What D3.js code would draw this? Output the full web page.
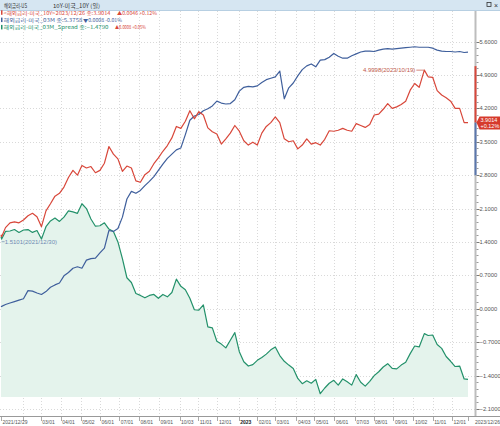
<!DOCTYPE html>
<html>
<head>
<meta charset="utf-8">
<script src="https://cdn.jsdelivr.net/npm/d3@7"></script>
<style>
  body { margin: 0; background: #fff; }
  svg text { font-family: "Liberation Sans", "Noto Sans CJK KR", sans-serif; }
  svg text.kr { font-family: "Noto Sans CJK KR", "Liberation Sans", sans-serif; }
</style>
</head>
<body>
<div id="chart"></div>
<script>
// weekly closes
var dates = ["2021-12-29","2021-12-30","2022-01-05","2022-01-12","2022-01-19","2022-01-26","2022-02-02","2022-02-09","2022-02-16","2022-02-23",
  "2022-03-02","2022-03-09","2022-03-16","2022-03-23","2022-03-30","2022-04-06","2022-04-13","2022-04-20","2022-04-27","2022-05-04",
  "2022-05-11","2022-05-18","2022-05-25","2022-06-01","2022-06-08","2022-06-15","2022-06-22","2022-06-29","2022-07-06","2022-07-13",
  "2022-07-20","2022-07-27","2022-08-03","2022-08-10","2022-08-17","2022-08-24","2022-08-31","2022-09-07","2022-09-14","2022-09-21",
  "2022-09-28","2022-10-05","2022-10-12","2022-10-19","2022-10-26","2022-11-02","2022-11-09","2022-11-16","2022-11-23","2022-11-30",
  "2022-12-07","2022-12-14","2022-12-21","2022-12-28","2023-01-04","2023-01-11","2023-01-18","2023-01-25","2023-02-01","2023-02-08",
  "2023-02-15","2023-02-22","2023-03-01","2023-03-08","2023-03-15","2023-03-22","2023-03-29","2023-04-05","2023-04-12","2023-04-19",
  "2023-04-26","2023-05-03","2023-05-10","2023-05-17","2023-05-24","2023-05-31","2023-06-07","2023-06-14","2023-06-21","2023-06-28",
  "2023-07-05","2023-07-12","2023-07-19","2023-07-26","2023-08-02","2023-08-09","2023-08-16","2023-08-23","2023-08-30","2023-09-06",
  "2023-09-13","2023-09-20","2023-09-27","2023-10-04","2023-10-11","2023-10-19","2023-10-25","2023-11-01","2023-11-08","2023-11-15",
  "2023-11-22","2023-11-29","2023-12-06","2023-12-13","2023-12-20","2023-12-26"];

var us10y = [1.55,1.5101,1.70,1.80,1.82,1.80,1.86,1.95,2.00,1.93,
  1.72,2.05,2.20,2.36,2.42,2.55,2.75,2.90,2.80,3.00,
  2.95,2.98,2.85,2.90,3.05,3.40,3.24,3.14,2.88,2.99,
  2.95,2.68,2.65,2.81,2.88,3.04,3.16,3.30,3.42,3.58,
  3.82,3.78,3.93,4.15,3.98,4.13,4.06,3.79,3.71,3.66,
  3.45,3.56,3.68,3.84,3.72,3.52,3.43,3.49,3.43,3.68,
  3.82,3.90,4.02,3.90,3.56,3.50,3.52,3.35,3.43,3.56,
  3.45,3.48,3.43,3.55,3.73,3.72,3.74,3.78,3.74,3.72,
  3.88,3.84,3.80,3.86,4.06,4.08,4.18,4.30,4.20,4.23,
  4.28,4.35,4.58,4.72,4.64,4.9998,4.86,4.85,4.57,4.48,
  4.42,4.35,4.20,4.20,3.90,3.9014];

var us03m = [0.04,0.05,0.09,0.12,0.15,0.18,0.21,0.38,0.37,0.33,
  0.30,0.36,0.45,0.50,0.54,0.69,0.76,0.85,0.88,0.85,
  1.02,1.05,1.06,1.17,1.27,1.64,1.62,1.68,1.92,2.30,
  2.46,2.42,2.48,2.58,2.67,2.77,2.90,3.03,3.15,3.24,
  3.33,3.37,3.65,3.95,4.04,4.07,4.15,4.19,4.25,4.35,
  4.31,4.29,4.30,4.38,4.56,4.64,4.66,4.65,4.67,4.74,
  4.80,4.83,4.86,4.98,4.40,4.63,4.73,4.88,5.01,5.09,
  5.13,5.07,5.21,5.22,5.27,5.35,5.29,5.25,5.25,5.30,
  5.34,5.38,5.40,5.40,5.39,5.42,5.44,5.45,5.44,5.45,
  5.46,5.47,5.48,5.49,5.48,5.48,5.48,5.46,5.42,5.40,
  5.39,5.39,5.38,5.39,5.37,5.3758];

var spread = [1.51,1.46,1.62,1.63,1.66,1.60,1.65,1.66,1.60,1.64,
  1.46,1.72,1.84,1.90,1.83,1.92,2.05,2.03,2.00,2.20,
  2.10,1.88,1.73,1.74,1.80,1.67,1.62,1.40,1.05,0.65,
  0.55,0.32,0.28,0.23,0.28,0.30,0.22,0.30,0.25,0.34,
  0.62,0.47,0.40,0.22,-0.02,-0.03,0.08,-0.38,-0.40,-0.68,
  -0.74,-0.82,-0.66,-0.50,-0.90,-1.11,-1.20,-1.17,-1.08,-1.02,
  -0.95,-0.86,-0.80,-0.98,-1.10,-1.18,-1.25,-1.46,-1.57,-1.51,
  -1.56,-1.48,-1.78,-1.66,-1.56,-1.50,-1.60,-1.47,-1.53,-1.60,
  -1.38,-1.54,-1.62,-1.52,-1.40,-1.32,-1.22,-1.15,-1.25,-1.26,
  -1.18,-1.12,-0.94,-0.78,-0.80,-0.52,-0.56,-0.55,-0.75,-0.83,
  -1.00,-1.10,-1.21,-1.20,-1.47,-1.479];

var xTickDates = ["2021-12-29","2022-02-01","2022-03-01","2022-04-01","2022-05-02","2022-06-01","2022-07-01","2022-08-01","2022-09-01","2022-10-03",
  "2022-11-01","2022-12-01","2023-01-03","2023-02-01","2023-03-01","2023-04-03","2023-05-01","2023-06-01","2023-07-03","2023-08-01",
  "2023-09-01","2023-10-02","2023-11-01","2023-12-01","2023-12-26"];
var xTickLabels = ["2021/12/29","","03/01","04/01","05/02","06/01","07/01","08/01","09/01","10/03",
  "11/01","12/01","2023","02/01","03/01","04/03","05/01","06/01","07/03","08/01",
  "09/01","10/02","11/01","12/01","2023/12/26"];
var yTicks = [5.6, 4.9, 4.2, 3.5, 2.8, 2.1, 1.4, 0.7, 0, -0.7, -1.4, -2.1];

var seriesNames = ["<해외금리-미국_10Y>2023/12/26 종:", "해외금리-미국_03M 종:", "해외금리-미국_03M_Spread 종:"];
var seriesChanges = ["▲0.0046 +0.12%", "▼0.0008 -0.01%", "▲0.0008 +0.05%"];
var lastPct = "+0.12%";

var red = "#d8473a", blue = "#3f5f9c", green = "#23916a";

var width = 500, height = 426, axisX = 475.5;
var parse = d3.timeParse("%Y-%m-%d");
var fmt4 = d3.format(".4f");
var fmtDate = d3.timeFormat("%Y/%m/%d");

var x = d3.scaleTime()
  .domain([parse(dates[0]), parse(dates[dates.length - 1])])
  .range([1, 468]);
var y = d3.scaleLinear()
  .domain([-2.1, 5.6])
  .range([409, 41.5]);

var svg = d3.select("#chart").append("svg")
  .attr("width", width)
  .attr("height", height);

svg.append("rect").attr("width", width).attr("height", height).attr("fill", "#fff");

// title bar
svg.append("rect").attr("x", 0).attr("y", 0).attr("width", width).attr("height", 10).attr("fill", "#d6e6f2");
svg.append("line").attr("x1", 0).attr("x2", width).attr("y1", 10.5).attr("y2", 10.5).attr("stroke", "#b7cfe2");
svg.append("text").attr("class", "kr").attr("x", 4).attr("y", 7.5).attr("font-size", "5.5px").attr("fill", "#333")
  .attr("textLength", 23).attr("lengthAdjust", "spacingAndGlyphs").text("해외금리-US");
svg.append("text").attr("class", "kr").attr("x", 53).attr("y", 7.5).attr("font-size", "5.5px").attr("fill", "#333")
  .attr("textLength", 47).attr("lengthAdjust", "spacingAndGlyphs").text("10Y-미국_10Y (일)");
svg.append("rect").attr("x", 487).attr("y", 2.5).attr("width", 4).attr("height", 4).attr("fill", "none").attr("stroke", "#333").attr("stroke-width", 0.8);
svg.append("text").attr("x", 494).attr("y", 7.5).attr("font-size", "7px").attr("fill", "#333").text("×");

// horizontal grid
svg.selectAll(".hgrid")
  .data(yTicks)
  .enter().append("line")
  .attr("x1", 0).attr("x2", axisX)
  .attr("y1", function(d) { return Math.round(y(d)) + 0.5; })
  .attr("y2", function(d) { return Math.round(y(d)) + 0.5; })
  .attr("stroke", "#d9d9d9")
  .attr("stroke-dasharray", "1,2");

// vertical grid at month ticks
svg.selectAll(".vgrid")
  .data(xTickDates.slice(1, -1))
  .enter().append("line")
  .attr("x1", function(d) { return Math.round(x(parse(d))) + 0.5; })
  .attr("x2", function(d) { return Math.round(x(parse(d))) + 0.5; })
  .attr("y1", 11).attr("y2", 416)
  .attr("stroke", "#d9d9d9")
  .attr("stroke-dasharray", "1,2");

var data = dates.map(function(d, i) {
  return { date: parse(d), r: us10y[i], b: us03m[i], s: spread[i] };
});

// spread area
svg.append("path")
  .datum(data)
  .attr("fill", "#e4f3ec")
  .attr("d", d3.area()
    .x(function(d) { return x(d.date); })
    .y0(397)
    .y1(function(d) { return y(d.s); }));

function drawLine(key, color) {
  svg.append("path")
    .datum(data)
    .attr("fill", "none")
    .attr("stroke", color)
    .attr("stroke-width", 1.2)
    .attr("stroke-linejoin", "round")
    .attr("d", d3.line()
      .x(function(d) { return x(d.date); })
      .y(function(d) { return y(d[key]); }));
}
drawLine("s", green);
drawLine("b", blue);
drawLine("r", red);

// max / min labels on the 10Y line
var iMax = d3.maxIndex(us10y), iMin = d3.minIndex(us10y);
var pMaxX = x(parse(dates[iMax])), pMaxY = y(us10y[iMax]);
svg.append("line").attr("x1", pMaxX - 8).attr("x2", pMaxX).attr("y1", pMaxY).attr("y2", pMaxY).attr("stroke", "#c96a5c").attr("stroke-width", 0.8);
svg.append("text")
  .attr("x", pMaxX - 9).attr("y", pMaxY + 2)
  .attr("text-anchor", "end")
  .attr("font-size", "6px")
  .attr("fill", "#c0584a")
  .text(fmt4(us10y[iMax]) + "(" + fmtDate(parse(dates[iMax])) + ")");
var pMinX = x(parse(dates[iMin])), pMinY = y(us10y[iMin]);
svg.append("line").attr("x1", pMinX).attr("x2", pMinX + 3).attr("y1", pMinY + 5).attr("y2", pMinY + 5).attr("stroke", "#7f97b8").attr("stroke-width", 0.8);
svg.append("text")
  .attr("x", pMinX + 3).attr("y", pMinY + 7)
  .attr("font-size", "6px")
  .attr("fill", "#6f8bb3")
  .text(fmt4(us10y[iMin]) + "(" + fmtDate(parse(dates[iMin])) + ")");

// right axis
svg.append("line").attr("x1", axisX).attr("x2", axisX).attr("y1", 11).attr("y2", 417).attr("stroke", "#bdbdbd").attr("stroke-width", 2);
var lastR = us10y[us10y.length - 1];
svg.append("rect").attr("x", axisX - 1).attr("width", 2)
  .attr("y", y(us10y[iMax]) - 4).attr("height", y(lastR) - y(us10y[iMax]) + 4)
  .attr("fill", red);
svg.append("rect").attr("x", axisX - 1).attr("width", 2)
  .attr("y", y(lastR)).attr("height", y(2.8) - y(lastR))
  .attr("fill", "#5a77ad");

// minor ticks
var minor = [];
yTicks.slice(0, -1).forEach(function(t) {
  for (var k = 1; k < 5; k++) minor.push(t - k * 0.14);
});
svg.selectAll(".minor")
  .data(minor)
  .enter().append("line")
  .attr("x1", axisX + 1).attr("x2", axisX + 3)
  .attr("y1", function(d) { return Math.round(y(d)) + 0.5; })
  .attr("y2", function(d) { return Math.round(y(d)) + 0.5; })
  .attr("stroke", "#999");

svg.selectAll(".ytick")
  .data(yTicks)
  .enter().append("line")
  .attr("x1", axisX + 1).attr("x2", axisX + 4)
  .attr("y1", function(d) { return Math.round(y(d)) + 0.5; })
  .attr("y2", function(d) { return Math.round(y(d)) + 0.5; })
  .attr("stroke", "#777");

svg.selectAll(".ylabel")
  .data(yTicks)
  .enter().append("text")
  .attr("x", axisX + 4)
  .attr("y", function(d) { return y(d) + 2; })
  .attr("font-size", "5.8px")
  .attr("fill", "#555")
  .text(function(d) { return fmt4(d); });

// last value tag
var tagY = y(lastR);
svg.append("path")
  .attr("d", "M" + (axisX + 1) + "," + tagY + " L" + (axisX + 4) + "," + (tagY - 6) + " L500," + (tagY - 6) + " L500," + (tagY + 7) + " L" + (axisX + 4) + "," + (tagY + 7) + " Z")
  .attr("fill", "#d63a2c");
svg.append("text").attr("x", axisX + 5).attr("y", tagY - 0.5).attr("font-size", "5.5px").attr("fill", "#fff").text(fmt4(lastR));
svg.append("text").attr("x", axisX + 5).attr("y", tagY + 5.5).attr("font-size", "5.5px").attr("fill", "#fff").text(lastPct);

// x axis
svg.append("line").attr("x1", 0).attr("x2", width).attr("y1", 416.5).attr("y2", 416.5).attr("stroke", "#999");
svg.selectAll(".xtick")
  .data(xTickDates)
  .enter().append("line")
  .attr("x1", function(d) { return Math.round(x(parse(d))) + 0.5; })
  .attr("x2", function(d) { return Math.round(x(parse(d))) + 0.5; })
  .attr("y1", 417).attr("y2", 421)
  .attr("stroke", "#aaa");
svg.selectAll(".xlabel")
  .data(xTickDates)
  .enter().append("text")
  .attr("x", function(d, i) { return i == xTickDates.length - 1 ? 500 : x(parse(d)) + 1.5; })
  .attr("y", 423.5)
  .attr("text-anchor", function(d, i) { return i == xTickDates.length - 1 ? "end" : "start"; })
  .attr("font-size", "5px")
  .attr("font-weight", function(d, i) { return xTickLabels[i] == "2023" ? "bold" : "normal"; })
  .attr("fill", function(d, i) { return xTickLabels[i] == "2023" ? "#222" : "#555"; })
  .text(function(d, i) { return xTickLabels[i]; });

// legend
var lastVals = [us10y[us10y.length - 1], us03m[us03m.length - 1], spread[spread.length - 1]];
var legColors = [red, blue, green];
var chgColors = [red, blue, red];
var nameWidths = [107, 79, 105], chgX = [117, 83, 115], chgWidths = [40, 39, 31];
seriesNames.forEach(function(name, i) {
  var ly = 14.8 + i * 7.3;
  svg.append("rect").attr("x", 1).attr("y", ly - 4.5).attr("width", 1.5).attr("height", 4.5).attr("fill", legColors[i]);
  svg.append("text").attr("class", "kr")
    .attr("x", 3.5).attr("y", ly)
    .attr("font-size", "5px")
    .attr("fill", legColors[i])
    .attr("textLength", nameWidths[i]).attr("lengthAdjust", "spacingAndGlyphs")
    .text(name + fmt4(lastVals[i]));
  svg.append("text").attr("class", "kr")
    .attr("x", chgX[i]).attr("y", ly)
    .attr("font-size", "5px")
    .attr("fill", chgColors[i])
    .attr("textLength", chgWidths[i]).attr("lengthAdjust", "spacingAndGlyphs")
    .text(seriesChanges[i]);
});
</script>
</body>
</html>
